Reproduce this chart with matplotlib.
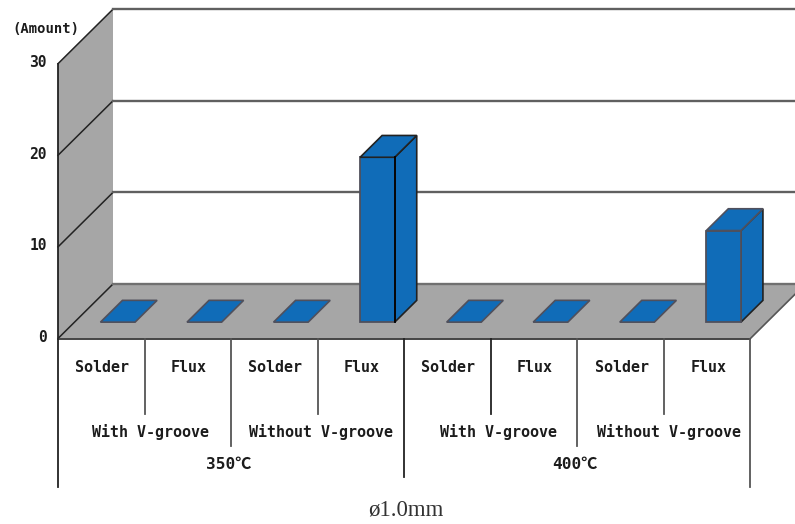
import matplotlib
matplotlib.use("Agg")
import matplotlib.pyplot as plt
from matplotlib.patches import Polygon

# values, one per column of the chart
conditions = ["Solder", "Flux", "Solder", "Flux", "Solder", "Flux", "Solder", "Flux"]
amounts = [0, 0, 0, 18, 0, 0, 0, 10]
grooves = ["With V-groove", "Without V-groove", "With V-groove", "Without V-groove"]
temps = ["350℃", "400℃"]
y_ticks = [0, 10, 20, 30]

GRAY = "#a6a6a6"
BLUE = "#106cb8"
EDGE = "#50505c"
LINE = "#222222"
TEXT = "#1c1c1c"
MONO = ["DejaVu Sans Mono", "Noto Sans CJK JP"]

# pixel layout of the fake 3d box
X0, Y0 = 58, 338.5
COL_W = 86.55
UNIT = 9.16
DX, DY = 55, -54.5
n = len(amounts)


def proj(col, value=0, depth=0):
    # col in columns, value in amount units, depth 0 front .. 1 back
    return (X0 + col * COL_W + depth * DX, Y0 - value * UNIT + depth * DY)


fig = plt.figure(figsize=(7.95, 5.24), dpi=100)
ax = fig.add_axes([0, 0, 1, 1])
ax.set_xlim(0, 795)
ax.set_ylim(524, 0)
ax.axis("off")

# side wall and floor
ax.add_patch(Polygon([proj(0), proj(0, 30), proj(0, 30, 1), proj(0, 0, 1)], fc=GRAY, ec="none", zorder=1))
ax.add_patch(Polygon([proj(0), proj(n), proj(n, 0, 1), proj(0, 0, 1)], fc=GRAY, ec="none", zorder=1))

# grid
for v in y_ticks:
    ax.plot(*zip(proj(0, v), proj(0, v, 1)), color=LINE, lw=1.1, zorder=2)
    if v > 0:
        ax.plot(*zip(proj(0, v, 1), proj(n, v, 1)), color="#606060", lw=1.7, zorder=2)
    ax.text(X0 - 11, proj(0, v)[1] - 1, str(v), ha="right", va="center", family=MONO,
            fontsize=10.5, fontweight="bold", color=TEXT, zorder=5)
ax.plot(*zip(proj(0), proj(0, 30)), color=LINE, lw=1.3, zorder=2)
ax.plot(*zip(proj(0, 0, 1), proj(n, 0, 1)), color="#707070", lw=1.7, zorder=2)
ax.plot(*zip(proj(n), proj(n, 0, 1)), color="#555555", lw=1.2, zorder=2)
ax.text(46, 29, "(Amount)", ha="center", va="center", family=MONO, fontsize=10,
        fontweight="bold", color=TEXT, zorder=5)

# bars
for i, amount in enumerate(amounts):
    left, right = i + 0.3, i + 0.7
    d0, d1 = 0.3, 0.7
    if amount > 0:
        ax.add_patch(Polygon([proj(right, 0, d0), proj(right, 0, d1), proj(right, amount, d1), proj(right, amount, d0)],
                             fc=BLUE, ec=LINE, lw=1.2, zorder=3))
        ax.add_patch(Polygon([proj(left, 0, d0), proj(right, 0, d0), proj(right, amount, d0), proj(left, amount, d0)],
                             fc=BLUE, ec=EDGE, lw=1.3, zorder=3))
        if i == 3:
            ax.plot(*zip(proj(right, 0, d0), proj(right, amount, d0)), color="black", lw=1.3, zorder=5)
    ax.add_patch(Polygon([proj(left, amount, d0), proj(right, amount, d0), proj(right, amount, d1), proj(left, amount, d1)],
                         fc=BLUE, ec=LINE if i == 3 else EDGE, lw=1.2, zorder=4))

# category table under the floor
base = proj(0)[1]
ax.plot(*zip(proj(0), proj(n)), color="#444444", lw=1.4, zorder=2)
for i in range(n + 1):
    x = proj(i)[0]
    if i in (0, n):
        bottom = 487
    elif i == n // 2:
        bottom = 477
    elif i % 2 == 0:
        bottom = 446
    else:
        bottom = 414
    ax.plot([x, x], [base, bottom], color=LINE if i in (0, 4, 5) else "#555555", lw=1.3, zorder=2)

for i, name in enumerate(conditions):
    ax.text(proj(i + 0.5)[0] + 1, 368, name, ha="center", va="center", family=MONO,
            fontsize=10.8, fontweight="bold", color=TEXT)
groove_nudge = [6, 3, 8, 5]
for i, name in enumerate(grooves):
    ax.text(proj(2 * i + 1)[0] + groove_nudge[i], 432, name, ha="center", va="center", family=MONO,
            fontsize=10.8, fontweight="bold", color=TEXT)
for i, name in enumerate(temps):
    ax.text(proj(4 * i + 2)[0] - 2, 464, name, ha="center", va="center", family=MONO,
            fontsize=11.6, fontweight="bold", color=TEXT)

ax.text(405.5, 510, "ø1.0mm", ha="center", va="center", family="Liberation Serif",
        fontsize=16.5, color="#333333")

fig.savefig("out.png", dpi=100)
